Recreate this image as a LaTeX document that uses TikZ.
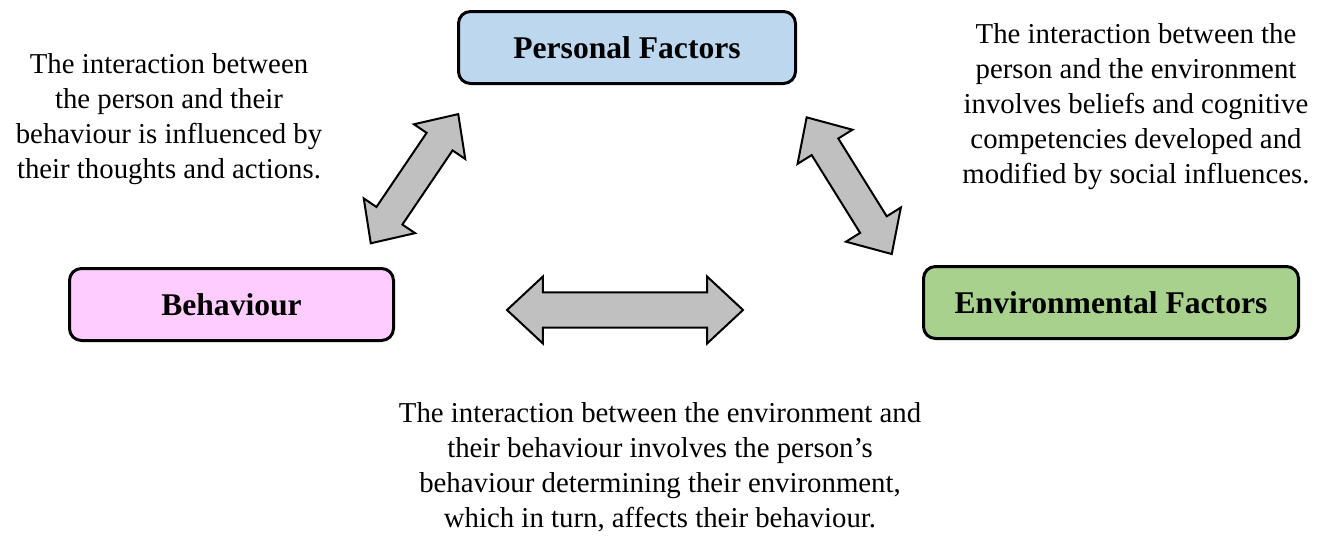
\documentclass[tikz,border=0pt]{standalone}
\usepackage{fontspec}
\setmainfont{Liberation Serif}
\usetikzlibrary{shapes.arrows}

\definecolor{persfill}{HTML}{BDD7EE}
\definecolor{behfill}{HTML}{FFCCFF}
\definecolor{envfill}{HTML}{A9D18E}
\definecolor{arrowgray}{HTML}{C0C0C0}

\tikzset{
  factorbox/.style={draw=black, line width=2.25pt, rounded corners=9pt,
    minimum height=54pt, inner sep=0pt,
    font=\bfseries\fontsize{23.7}{28}\selectfont},
  note/.style={align=center, inner sep=0pt, anchor=north,
    font=\fontsize{21.6}{26.25}\selectfont},
  linkarrow/.style={double arrow, draw=black, fill=arrowgray, line width=1.5pt,
    inner xsep=0pt, double arrow tip angle=86},
}

\begin{document}
\begin{tikzpicture}[x=0.75pt, y=-0.75pt]
  \useasboundingbox (0,0) rectangle (1330,539);

  % the three factors
  \node[factorbox, fill=persfill, minimum width=252.75pt] (pers) at (627,47.5) {Personal Factors};
  \node[factorbox, fill=behfill, minimum width=243pt] (beh) at (231.5,304.5) {Behaviour};
  \node[factorbox, fill=envfill, minimum width=281.25pt] (env) at (1111,302.5) {Environmental Factors};

  % two-way links between the factors (shaft = 2 x inner ysep)
  \node[linkarrow, minimum height=117pt, inner ysep=11pt,
        double arrow head extend=11.5pt, rotate=55.9] (pb) at (414.5,178.7) {};
  \node[linkarrow, minimum height=120.75pt, inner ysep=11pt,
        double arrow head extend=12.5pt, rotate=-58.1] (pe) at (849.2,185.7) {};
  \node[linkarrow, minimum height=177pt, inner ysep=12.4pt,
        double arrow head extend=12pt] (be) at (625,310) {};

  % explanations
  \node[note] (notepb) at (169,53.3) {The interaction between\\the person and their\\behaviour is influenced by\\their thoughts and actions.};
  \node[note] (notepe) at (1136,23.3) {The interaction between the\\person and the environment\\involves beliefs and cognitive\\competencies developed and\\modified by social influences.};
  \node[note] (notebe) at (660,402.3) {The interaction between the environment and\\their behaviour involves the person’s\\behaviour determining their environment,\\which in turn, affects their behaviour.};
\end{tikzpicture}
\end{document}
